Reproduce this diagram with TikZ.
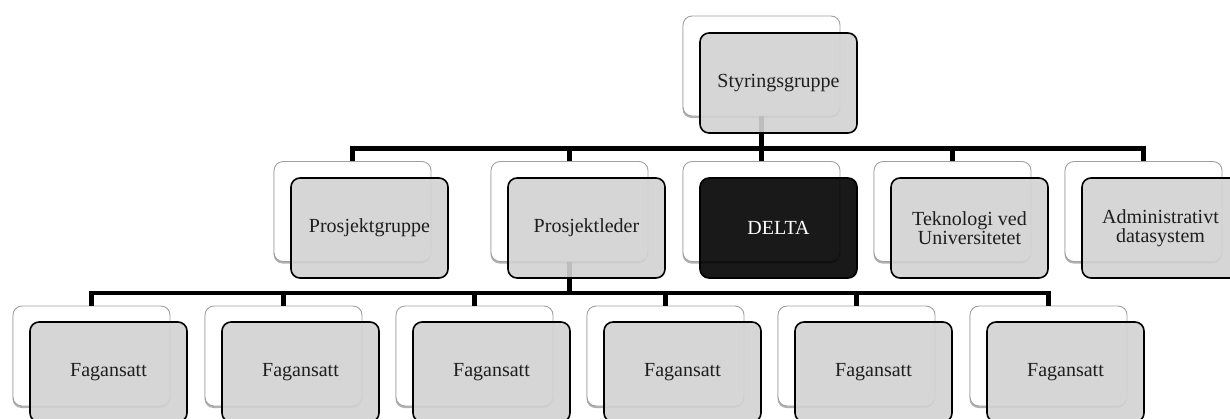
\documentclass[tikz,border=0pt]{standalone}
\usepackage{fontspec}
\setmainfont{Liberation Serif}
\usetikzlibrary{shadows}
\definecolor{frontfill}{RGB}{210,210,210}
\definecolor{deltafill}{RGB}{0,0,0}
\definecolor{backline}{RGB}{160,160,160}
\definecolor{txt}{RGB}{30,30,30}
\tikzset{
  backbox/.style={draw=backline, line width=0.9pt, fill=white, rounded corners=9pt,
    minimum width=157pt, minimum height=100pt, inner sep=0pt,
    drop shadow={shadow xshift=-0.5pt, shadow yshift=-2pt, opacity=0.3, fill=black}},
  frontbox/.style={draw=black, line width=1.6pt, fill=frontfill, fill opacity=0.9,
    text opacity=1, draw opacity=1, rounded corners=9pt,
    minimum width=157pt, minimum height=100pt, inner sep=2pt, align=center,
    font=\fontsize{20}{18.5}\selectfont, text=txt},
  deltabox/.style={frontbox, fill=deltafill, text=white},
  conn/.style={line width=4.5pt, line join=miter, line cap=butt}
}
\begin{document}
\begin{tikzpicture}[x=1pt, y=-1pt]
\useasboundingbox (0,0) rectangle (1230,418);
\clip (0,0) rectangle (1230,418);
% back boxes
\node[backbox] (b0) at (761.5,66) {};
\node[backbox] (b1) at (352.5,211.5) {};
\node[backbox] (b2) at (569.5,211.5) {};
\node[backbox] (b3) at (761.5,211.5) {};
\node[backbox] (b4) at (952.5,211.5) {};
\node[backbox] (b5) at (1143.5,211.5) {};
\node[backbox] (c1) at (91.5,356) {};
\node[backbox] (c2) at (283.5,356) {};
\node[backbox] (c3) at (474.5,356) {};
\node[backbox] (c4) at (665.5,356) {};
\node[backbox] (c5) at (856.5,356) {};
\node[backbox] (c6) at (1048.5,356) {};
% connectors
\foreach \k in {b1,b2,b3,b4,b5}
  \draw[conn] (b0.south) -- ++(0,32) -| (\k.north);
\foreach \k in {c1,c2,c3,c4,c5,c6}
  \draw[conn] (b2.south) -- ++(0,31) -| (\k.north);
% front boxes
\node[frontbox] (f0) at (778.5,83) {Styringsgruppe};
\node[frontbox] (f1) at (369.5,228) {Prosjektgruppe};
\node[frontbox] (f2) at (586.5,228) {Prosjektleder};
\node[deltabox] (f3) at (778.5,228) {DELTA};
\node[frontbox] (f4) at (969.5,228) {Teknologi ved\\Universitetet};
\node[frontbox] (f5) at (1160.5,228) {Administrativt\\datasystem};
\node[frontbox] (g1) at (108.5,372) {Fagansatt};
\node[frontbox] (g2) at (300.5,372) {Fagansatt};
\node[frontbox] (g3) at (491.5,372) {Fagansatt};
\node[frontbox] (g4) at (682.5,372) {Fagansatt};
\node[frontbox] (g5) at (873.5,372) {Fagansatt};
\node[frontbox] (g6) at (1065.5,372) {Fagansatt};
\end{tikzpicture}
\end{document}
